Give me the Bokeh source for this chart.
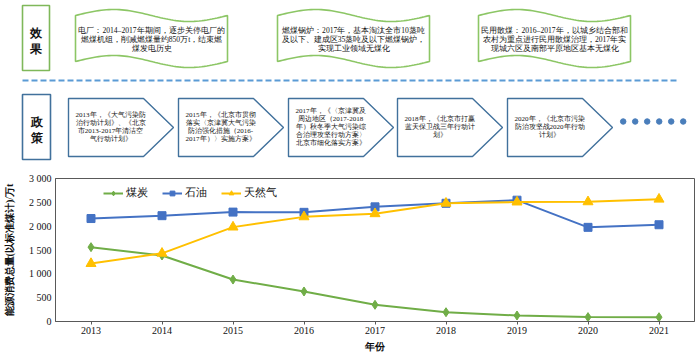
import numpy as np
from bokeh.plotting import figure
from bokeh.layouts import column
from bokeh.models import Range1d, FixedTicker, ColumnDataSource, Legend, LegendItem
from bokeh.core.properties import value
from bokeh.embed import file_html
from bokeh.resources import INLINE

# ---------------- data ----------------
years = [2013, 2014, 2015, 2016, 2017, 2018, 2019, 2020, 2021]
coal = [1560, 1385, 880, 630, 350, 195, 126, 92, 91]
oil = [2160, 2220, 2295, 2290, 2405, 2480, 2545, 1975, 2030]
gas = [1215, 1430, 1980, 2195, 2260, 2480, 2505, 2510, 2565]
series_names = ["煤炭", "石油", "天然气"]
y_ticks = [0, 500, 1000, 1500, 2000, 2500, 3000]
y_tick_labels = ["0", "500", "1 000", "1 500", "2 000", "2 500", "3 000"]
x_tick_labels = ["2013", "2014", "2015", "2016", "2017", "2018", "2019", "2020", "2021"]
y_title = "能源消费总量(以标准煤计)/万t"
x_title = "年份"

effect_title = ["效", "果"]
policy_title = ["政", "策"]
effect_lines = [
    ["电厂：2014–2017年期间，逐步关停电厂的", "燃煤机组，削减燃煤量约850万t，结束燃", "煤发电历史"],
    ["燃煤锅炉：2017年，基本淘汰全市10蒸吨", "及以下、建成区35蒸吨及以下燃煤锅炉，", "实现工业领域无煤化"],
    ["民用散煤：2016–2017年，以城乡结合部和", "农村为重点进行民用散煤治理，2017年实", "现城六区及南部平原地区基本无煤化"],
]
policy_lines = [
    ["2013年，《大气污染防", "治行动计划》、《北京", "市2013-2017年清洁空", "气行动计划》"],
    ["2015年，《北京市贯彻", "落实〈京津冀大气污染", "防治强化措施（2016-", "2017年）〉实施方案》"],
    ["2017年，《〈京津冀及", "周边地区（2017-2018", "年）秋冬季大气污染综", "合治理攻坚行动方案〉", "北京市细化落实方案》"],
    ["2018年，《北京市打赢", "蓝天保卫战三年行动计", "划》"],
    ["2020年，《北京市污染", "防治攻坚战2020年行动", "计划》"],
]
n_dots = 6

# ---------------- styles ----------------
FONT = "Liberation Serif"
SERIF = value(FONT)
GREEN_BOX = "#7FB85A"
BLUE_BOX = "#41719C"
TXT = "#111111"
C_COAL, C_OIL, C_GAS = "#70AD47", "#4472C4", "#FFC000"

# ---------------- top diagram (pixel coordinates) ----------------
top = figure(width=700, height=165, x_range=Range1d(0, 700), y_range=Range1d(165, 0),
             toolbar_location=None, output_backend="svg", min_border=0, frame_align=False)
top.axis.visible = False
top.grid.visible = False
top.outline_line_color = None

# title boxes
top.quad(left=[22], right=[49], top=[5], bottom=[70], fill_color="white",
         line_color=GREEN_BOX, line_width=1.6)
top.quad(left=[22], right=[50], top=[94], bottom=[159], fill_color="white",
         line_color=BLUE_BOX, line_width=1.6)
top.text(x=[35.5, 35.5], y=[32, 48], text=effect_title, text_align="center",
         text_baseline="middle", text_font=SERIF, text_font_size="12px", text_font_style="bold",
         text_color=TXT)
top.text(x=[36, 36], y=[121, 137], text=policy_title, text_align="center",
         text_baseline="middle", text_font=SERIF, text_font_size="12px", text_font_style="bold",
         text_color=TXT)

# dashed separator
top.line(x=[22, 678], y=[80, 80], line_color="#5B9BD5", line_width=2, line_dash="6 3")

# wave banners
banner_x0 = [75, 277, 478]
bw = 152
t = np.linspace(0, 1, 60)
wx, wy = [], []
for x0 in banner_x0:
    xs_top = x0 + t * bw
    ys_top = 15 - 6 * np.sin(2 * np.pi * t)
    ys_bot = 61 - 6 * np.sin(2 * np.pi * t)
    wx.append(list(xs_top) + list(xs_top[::-1]))
    wy.append(list(ys_top) + list(ys_bot[::-1]))
top.patches(xs=wx, ys=wy, fill_color="white", line_color="#8CC665", line_width=1.6)

tx, ty, tt = [], [], []
for x0, lines in zip(banner_x0, effect_lines):
    n = len(lines)
    for i, s in enumerate(lines):
        tx.append(x0 + bw / 2)
        ty.append(39 + (i - (n - 1) / 2) * 9.4)
        tt.append(s)
top.text(x=tx, y=ty, text=tt, text_align="center", text_baseline="middle",
         text_font=SERIF, text_font_size="7.6px", text_color=TXT)

# pentagon arrows
pent_x0 = [68, 178, 288, 397, 507]
body_w, tip_w = 75, 30
px, py = [], []
for x0 in pent_x0:
    px.append([x0, x0 + body_w, x0 + body_w + tip_w, x0 + body_w, x0])
    py.append([98, 98, 127, 156, 156])
top.patches(xs=px, ys=py, fill_color="white", line_color=BLUE_BOX, line_width=1.4)

tx, ty, tt = [], [], []
for x0, lines in zip(pent_x0, policy_lines):
    n = len(lines)
    for i, s in enumerate(lines):
        tx.append(x0 + 42)
        ty.append(126 + (i - (n - 1) / 2) * 8.0)
        tt.append(s)
top.text(x=tx, y=ty, text=tt, text_align="center", text_baseline="middle",
         text_font=SERIF, text_font_size="7px", text_color=TXT)

dots_x = [622.7 + i * 12 for i in range(n_dots)]
top.scatter(x=dots_x, y=[121] * n_dots, size=5.5, marker="circle",
            fill_color="#4A7EBB", line_color="#4A7EBB")

# ---------------- line chart ----------------
p = figure(width=700, height=193, x_range=Range1d(2012.5, 2021.5), y_range=Range1d(0, 3000),
           toolbar_location=None, output_backend="svg", frame_align=False,
           min_border_left=53, min_border_right=6, min_border_top=13, min_border_bottom=37)
p.grid.visible = False
p.outline_line_color = "#595959"
p.outline_line_width = 1

src = ColumnDataSource(dict(x=years, coal=coal, oil=oil, gas=gas))
l1 = p.line("x", "coal", source=src, line_color=C_COAL, line_width=2)
m1 = p.scatter("x", "coal", source=src, marker="diamond", size=9, fill_color=C_COAL, line_color=C_COAL)
l2 = p.line("x", "oil", source=src, line_color=C_OIL, line_width=2)
m2 = p.scatter("x", "oil", source=src, marker="square", size=8, fill_color=C_OIL, line_color=C_OIL)
l3 = p.line("x", "gas", source=src, line_color=C_GAS, line_width=2)
m3 = p.scatter("x", "gas", source=src, marker="triangle", size=10, fill_color=C_GAS, line_color=C_GAS)

legend = Legend(items=[LegendItem(label=series_names[0], renderers=[l1, m1]),
                       LegendItem(label=series_names[1], renderers=[l2, m2]),
                       LegendItem(label=series_names[2], renderers=[l3, m3])],
                orientation="horizontal", location=(48, 121), padding=0, margin=0,
                spacing=14, glyph_width=20, glyph_height=12, label_standoff=3,
                border_line_color=None, background_fill_alpha=0,
                label_text_font=FONT, label_text_font_size="11px", label_text_color=TXT)
p.add_layout(legend, "center")

p.xaxis.ticker = FixedTicker(ticks=years)
p.xaxis.major_label_overrides = {y: s for y, s in zip(years, x_tick_labels)}
p.yaxis.ticker = FixedTicker(ticks=y_ticks)
p.yaxis.major_label_overrides = {v: s for v, s in zip(y_ticks, y_tick_labels)}
p.xaxis.minor_tick_line_color = None
p.yaxis.minor_tick_line_color = None
p.yaxis.major_tick_line_color = None
p.yaxis.major_tick_out = 0
p.yaxis.major_tick_in = 0
p.xaxis.major_tick_out = 3
p.xaxis.major_tick_in = 0
p.xaxis.major_tick_line_color = "#595959"
p.axis.axis_line_color = "#595959"
p.axis.major_label_text_font = FONT
p.axis.major_label_text_font_size = "10px"
p.axis.major_label_text_color = TXT
p.xaxis.major_label_standoff = 2
p.yaxis.major_label_standoff = 4
p.xaxis.axis_label = x_title
p.yaxis.axis_label = y_title
p.axis.axis_label_text_font = FONT
p.axis.axis_label_text_font_size = "10px"
p.axis.axis_label_text_font_style = "bold"
p.axis.axis_label_text_color = TXT
p.xaxis.axis_label_standoff = 4
p.yaxis.axis_label_standoff = 11

layout = column(top, p, spacing=0)
open("out.html", "w").write(file_html(layout, INLINE))
